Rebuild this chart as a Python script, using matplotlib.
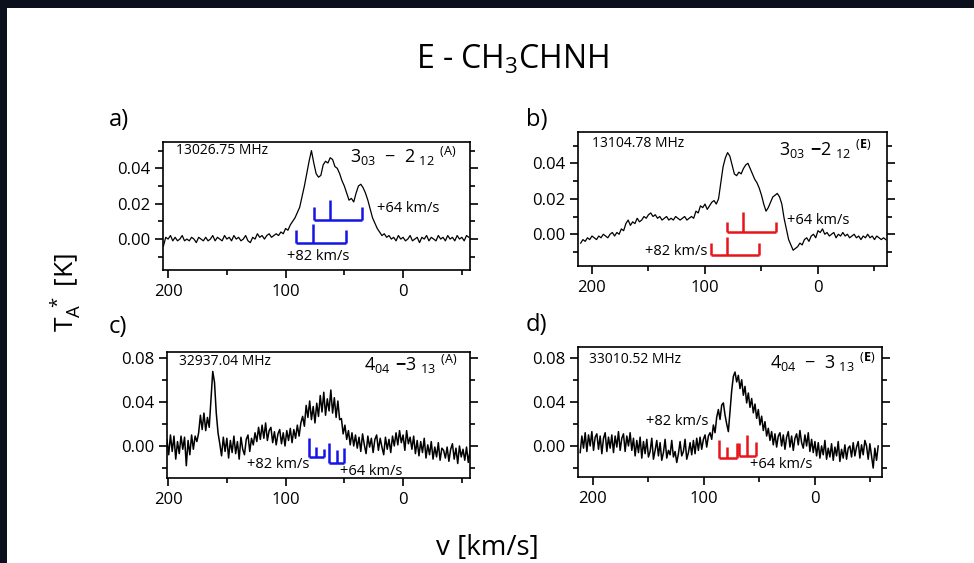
import numpy as np
import matplotlib
matplotlib.use('Agg')
import matplotlib.pyplot as plt
from matplotlib.patches import Rectangle
from matplotlib.ticker import MultipleLocator

plt.rcParams['font.family'] = ['Open Sans', 'DejaVu Sans']
plt.rcParams['mathtext.fontset'] = 'custom'
plt.rcParams['mathtext.rm'] = 'Open Sans'
plt.rcParams['mathtext.bf'] = 'Open Sans:bold'

# spectra, antenna temperature in mK, channel velocities in km/s
v_a = np.arange(204, -57, -2)
t_a = [-4, 1, 0, 2, -1, 1, -1, 0, 2, -1,
       0, -1, 1, 0, -2, 1, 0, -1, 1, -1,
       0, 2, -1, 1, 0, -1, 2, 0, 1, -1,
       2, 0, 1, -1, 0, 2, -1, -2, 1, 0,
       3, 1, 2, 0, 2, 3, 1, 2, 3, 2,
       4, 3, 6, 5, 8, 10, 12, 15, 18, 24,
       30, 37, 44, 50, 43, 37, 35, 36, 42, 44,
       43, 46, 45, 41, 40, 37, 33, 30, 26, 22,
       23, 21, 26, 30, 31, 29, 26, 22, 17, 12,
       9, 6, 4, 2, 3,
       1, 2, 0, 1, -1, 2, 0, 1, -1, 0,
       2, -1, 0, 1, -2, 1, 0, 2, -1, 1,
       0, -1, 2, 0, 1, -1, 2, 0, 1, -1,
       2, 0, 1, -1, 2, 1]

v_b = np.arange(210, -61, -2)
t_b = [-5, -3, -4, -2, -3, -1, -2, -3, -1, -2,
       0, -1, -2, 0, 1, -1, 1, 0, 3, 2,
       6, 8, 5, 7, 6, 9, 7, 8, 10, 9,
       11, 12, 10, 11, 9, 10, 8, 9, 10, 8,
       9, 8, 10, 9, 8, 9, 10, 8, 9, 10,
       9, 13, 12, 16, 15, 17, 14, 16, 18, 19,
       17, 20, 29, 38, 43, 46, 44, 39, 34, 33,
       35, 34, 37, 39, 40, 37, 34, 31, 29, 26,
       22, 17, 13, 15, 18, 21, 22, 23, 21, 17,
       9, 3, -3, -6, -9, -8, -7, -5, -6, -3,
       -2, -4, -1, 0, -2, 2, 1, 3, 0, 1,
       -1, 0, 1, -2, 0, -1, 1, -1, 0, -2,
       -1, 0, -2, -1, -3, -1, -2, 0, -2, -1,
       -3, -1, -2, -3, -2, -3]

v_c = np.arange(202.5, -58, -1.5)
t_c = [-14, 6, -8, 10, -5, 9, -12, 4, -7, 9,
       -3, 8, -18, 5, -8, 10, -3, 9, 4, 12,
       28, 15, 30, 14, 26, 17, 42, 68, 58, 30,
       12, 2, -9, 8, -5, 7, -11, 5, -6, 9,
       -7, 4, -12, 8, -3, -8, 6, 10, -5, 7,
       1, 12, 4, 17, 6, 19, 7, 21, 5, 14,
       17, 3, 13, 1, 11, 15, 2, 12, 0, 14,
       5, 16, 3, 15, 7, 19, 9, 21, 27, 18,
       37, 26, 41, 24, 36, 21, 39, 27, 46, 31,
       49, 28, 43, 32, 51, 30, 44, 26, 41, 24,
       25, 11, 19, 6, 14, 1, 12, 0, 10, -2,
       8, -5, 11, 1, -7, 9, -1, 7, -6, 6,
       10, -4, 7, -1, -8, 8, -3, 6, -6, 9,
       0, 12, 1, 14, 3, 10, -4, 14, 2, 8,
       -3, 9, -7, 5, -9, 4, -6, 7, -11, 1,
       -8, 4, -12, -1, -10, 3, -13, -2, -4, -11,
       -1, -14, -3, 2, -12, -2, -16, 0, -10, -3,
       -13, -1, -15, -4]

v_d = np.arange(211.5, -58, -1.5)
t_d = [-6, 9, -2, 12, -5, 10, 0, 13, -4, 8,
       11, -3, 9, -7, 7, 12, -5, 8, -2, 10,
       -6, 9, -1, 13, -4, 7, 11, -5, 9, 0,
       12, -4, 7, -9, 5, -6, 8, -11, 4, -7,
       6, -10, -5, 7, -12, -4, 5, -9, 3, -13,
       -6, 6, -11, -4, -8, 5, -10, -5, -15, -7,
       4, -9, -5, 6, -12, -6, 3, -8, 5, -7,
       7, -4, 8, -3, 6, 10, -1, 9, 12, 6,
       19, 12, 26, 33, 24, 37, 39, 28, 20, 13,
       32, 50, 63, 67, 58, 64, 52, 60, 46, 54,
       39, 48, 35, 43, 30, 38, 25, 33, 19, 27,
       14, 22, 9, 16, 5, 13, 1, 11, -1, 9,
       12, 0, 10, -3, 8, 13, -1, 9, -4, 7,
       11, 1, 14, 3, -2, 10, 0, 12, -5, 6,
       -6, 4, -9, 3, -11, 0, -8, 5, -12, -2,
       -10, 2, -13, -1, -9, 4, -14, -3, -11, 1,
       -12, -2, 0, -10, 3, -9, -1, 4, -11, 1,
       -8, 5, 0, -12, 2, -9, -20, -2, -13, 0]

# hyperfine component markers: velocities, tick tops, base level (K)
comb_v_a = [[76, 62, 35], [91, 77, 49]]
comb_top_a = [[0.018, 0.022, 0.018], [0.005, 0.0085, 0.005]]
comb_base_a = [0.011, -0.0025]

comb_v_b = [[80.5, 66, 37], [95, 80.5, 52.5]]
comb_top_b = [[0.007, 0.0128, 0.007], [-0.005, -0.0013, -0.005]]
comb_base_b = [0.0011, -0.0116]

comb_v_c = [[80.5, 74, 67.5], [63, 56.5, 50]]
comb_top_c = [[0.007, -0.001, -0.003], [0.003, -0.004, -0.002]]
comb_base_c = [-0.0097, -0.0158]

comb_v_d = [[86.5, 79, 70.5], [68, 61.5, 53.5]]
comb_top_d = [[0.0054, -0.0005, 0.0024], [0.0024, 0.010, 0.0039]]
comb_base_d = [-0.011, -0.0088]

freqs = ['13026.75 MHz', '13104.78 MHz', '32937.04 MHz', '33010.52 MHz']
trans = [r'$\mathregular{3_{03}\ -\ 2_{\ 12}\ {}^{(A)}}$',
         r'$\mathregular{3_{03}\ \mathbf{-} 2_{\ 12}\ {}^{(\mathbf{E})}}$',
         r'$\mathregular{4_{04}\ \mathbf{-} 3_{\ 13}\ {}^{(A)}}$',
         r'$\mathregular{4_{04}\ -\ 3_{\ 13}\ {}^{(\mathbf{E})}}$']
letters = ['a)', 'b)', 'c)', 'd)']

BLUE = '#1414e6'
RED = '#e8141c'

fig = plt.figure(figsize=(9.74, 5.63), dpi=100)
fig.patch.set_facecolor('#0c101c')
# white slide area, behind the axes
fig.patches.append(Rectangle((7 / 974, 0), 1, 555 / 563, transform=fig.transFigure,
                             facecolor='white', edgecolor='none', zorder=-10))


def draw_panel(rect, v, t, xlim, ylim, ymaj, ymin, cv, ctop, cbase, color, lw):
    ax = fig.add_axes(rect)
    ax.patch.set_alpha(0)
    ax.plot(v, np.array(t) / 1000.0, color='black', lw=lw)
    for vs, tops, base in zip(cv, ctop, cbase):
        ax.plot([max(vs), min(vs)], [base, base], color=color, lw=1.8, solid_capstyle='butt')
        for vv, tt in zip(vs, tops):
            ax.plot([vv, vv], [base, tt], color=color, lw=1.8, solid_capstyle='butt')
    ax.set_xlim(*xlim)
    ax.set_ylim(*ylim)
    ax.xaxis.set_major_locator(MultipleLocator(100))
    ax.xaxis.set_minor_locator(MultipleLocator(50))
    ax.yaxis.set_major_locator(MultipleLocator(ymaj))
    ax.yaxis.set_minor_locator(MultipleLocator(ymin))
    ax.yaxis.set_major_formatter(matplotlib.ticker.FormatStrFormatter('%.2f'))
    ax.tick_params(which='both', direction='out', width=1.2, labelsize=12, colors='black')
    ax.tick_params(which='major', length=6)
    ax.tick_params(which='minor', length=3.5)
    ax.tick_params(axis='y', which='both', right=True, pad=3)
    ax.tick_params(axis='x', pad=4)
    for s in ax.spines.values():
        s.set_linewidth(1.2)
    return ax


ax_a = draw_panel([0.1674, 0.5204, 0.3152, 0.2274], v_a, t_a, (204.3, -57), (-0.0175, 0.0549),
                  0.02, 0.01, comb_v_a, comb_top_a, comb_base_a, BLUE, 0.9)
ax_b = draw_panel([0.5934, 0.5275, 0.3172, 0.2380], v_b, t_b, (212.4, -61), (-0.0179, 0.0576),
                  0.02, 0.01, comb_v_b, comb_top_b, comb_base_b, RED, 0.9)
ax_c = draw_panel([0.1715, 0.1510, 0.3111, 0.2238], v_c, t_c, (200.9, -57), (-0.0292, 0.0857),
                  0.04, 0.02, comb_v_c, comb_top_c, comb_base_c, BLUE, 1.1)
ax_d = draw_panel([0.5934, 0.1528, 0.3121, 0.2309], v_d, t_d, (213.5, -60.4), (-0.0281, 0.0897),
                  0.04, 0.02, comb_v_d, comb_top_d, comb_base_d, RED, 1.1)
axes = [ax_a, ax_b, ax_c, ax_d]

# frequency and transition labels
freq_pos = [(193, 0.050), (200, 0.0513), (191, 0.077), (204, 0.078)]
trans_pos = [(-46, 0.0465), (-48, 0.048), (-47, 0.074), (-55, 0.076)]
for ax, f, tr, fp, tp in zip(axes, freqs, trans, freq_pos, trans_pos):
    ax.text(fp[0], fp[1], f, fontsize=10, ha='left', va='center')
    ax.text(tp[0], tp[1], tr, fontsize=13, ha='right', va='center')

# velocity labels
vel_kw = dict(fontsize=10.5, va='center')
ax_a.text(22, 0.0174, '+64 km/s', ha='left', **vel_kw)
ax_a.text(72, -0.0096, '+82 km/s', ha='center', **vel_kw)
ax_b.text(27.4, 0.008, '+64 km/s', ha='left', **vel_kw)
ax_b.text(98, -0.0098, '+82 km/s', ha='right', **vel_kw)
ax_c.text(106, -0.017, '+82 km/s', ha='center', **vel_kw)
ax_c.text(27, -0.023, '+64 km/s', ha='center', **vel_kw)
ax_d.text(124, 0.022, '+82 km/s', ha='center', **vel_kw)
ax_d.text(30, -0.017, '+64 km/s', ha='center', **vel_kw)

letter_pos = [(0.112, 0.787), (0.540, 0.787), (0.112, 0.419), (0.540, 0.423)]
for lt, lp in zip(letters, letter_pos):
    fig.text(lp[0], lp[1], lt, fontsize=17, ha='left', va='center')

fig.text(0.526, 0.893, r'E - CH$_3$CHNH', fontsize=23, ha='center', va='center')
fig.text(0.5, 0.027, 'v [km/s]', fontsize=20, ha='center', va='center')
fig.text(0.068, 0.481, r'$\mathregular{T_A^{\ *}}$ [K]', fontsize=19, ha='center', va='center',
         rotation=90)

fig.savefig('out.png', dpi=100, facecolor=fig.get_facecolor())
